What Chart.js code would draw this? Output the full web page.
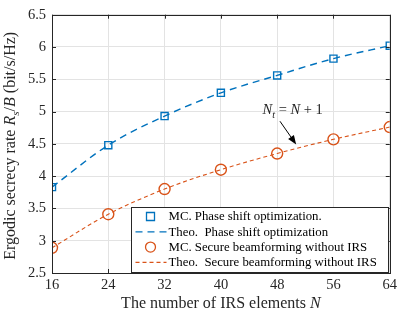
<!DOCTYPE html>
<html>
<head>
<meta charset="utf-8">
<script src="https://cdn.jsdelivr.net/npm/chart.js@4"></script>
<style>
  html, body { margin: 0; padding: 0; background: #fff; }
  #wrap { width: 400px; height: 318px; }
</style>
</head>
<body>
<div id="wrap"><canvas id="rateChart" width="400" height="318"></canvas></div>
<script>
// number of IRS elements N
const irsElements = [16, 24, 32, 40, 48, 56, 64];
// MC / theory, phase shift optimization
const mcPhaseShift = [3.83, 4.48, 4.93, 5.29, 5.56, 5.82, 6.02];
const theoPhaseShift = [3.83, 4.48, 4.93, 5.29, 5.56, 5.82, 6.02];
// MC / theory, secure beamforming without IRS
const mcNoIrs = [2.89, 3.41, 3.80, 4.10, 4.35, 4.57, 4.76];
const theoNoIrs = [2.89, 3.41, 3.80, 4.10, 4.35, 4.57, 4.76];

const labels = [
    'MC. Phase shift optimization.',
    'Theo.  Phase shift optimization',
    'MC. Secure beamforming without IRS',
    'Theo.  Secure beamforming without IRS'
];

const BLUE = '#0072BD';
const ORANGE = '#D95319';
const AXIS = '#262626';
const SERIF = '"Liberation Serif", "Times New Roman", serif';

function pts(ys) {
    return irsElements.map((x, i) => ({ x: x, y: ys[i] }));
}

// draw text made of runs [text, italic, subscript]
function runWidth(ctx, runs, size) {
    let w = 0;
    runs.forEach(r => {
        const s = r[2] ? size * 0.7 : size;
        ctx.font = (r[1] ? 'italic ' : '') + s + 'px ' + SERIF;
        w += ctx.measureText(r[0]).width;
    });
    return w;
}
function drawRuns(ctx, runs, x, y, size) {
    let cx = x - runWidth(ctx, runs, size) / 2;
    ctx.textAlign = 'left';
    ctx.textBaseline = 'alphabetic';
    runs.forEach(r => {
        const s = r[2] ? size * 0.7 : size;
        ctx.font = (r[1] ? 'italic ' : '') + s + 'px ' + SERIF;
        ctx.fillText(r[0], cx, y + (r[2] ? size * 0.25 : 0));
        cx += ctx.measureText(r[0]).width;
    });
}

const decorPlugin = {
    id: 'decor',
    afterDraw(chart) {
        const ctx = chart.ctx;
        const a = chart.chartArea;
        const xs = chart.scales.x, ys = chart.scales.y;
        ctx.save();

        // inward ticks
        ctx.strokeStyle = AXIS;
        ctx.lineWidth = 1;
        ctx.beginPath();
        xs.ticks.forEach(t => {
            const px = Math.round(xs.getPixelForValue(t.value)) + 0.5;
            ctx.moveTo(px, a.bottom); ctx.lineTo(px, a.bottom - 4);
            ctx.moveTo(px, a.top); ctx.lineTo(px, a.top + 4);
        });
        ys.ticks.forEach(t => {
            const py = Math.round(ys.getPixelForValue(t.value)) + 0.5;
            ctx.moveTo(a.left, py); ctx.lineTo(a.left + 4, py);
            ctx.moveTo(a.right, py); ctx.lineTo(a.right - 4, py);
        });
        ctx.stroke();
        // box
        ctx.strokeRect(Math.round(a.left) + 0.5, Math.round(a.top) + 0.5,
            Math.round(a.right - a.left), Math.round(a.bottom - a.top));

        // axis titles
        ctx.fillStyle = AXIS;
        drawRuns(ctx, [['The number of IRS elements ', false], ['N', true]],
            (a.left + a.right) / 2, 308, 16);
        ctx.save();
        ctx.translate(15, (a.top + a.bottom) / 2 + 2);
        ctx.rotate(-Math.PI / 2);
        drawRuns(ctx, [['Ergodic secrecy rate ', false], ['R', true], ['s', true, true],
            ['/', false], ['B', true], [' (bit/s/Hz)', false]], 0, 0, 16);
        ctx.restore();

        // annotation
        drawRuns(ctx, [['N', true], ['t', true, true], [' = ', false], ['N', true], [' + 1', false]],
            xs.getPixelForValue(50.2), ys.getPixelForValue(4.96), 14.5);
        const x0 = xs.getPixelForValue(48.4), y0 = ys.getPixelForValue(4.85);
        const x1 = xs.getPixelForValue(50.7), y1 = ys.getPixelForValue(4.49);
        const ang = Math.atan2(y1 - y0, x1 - x0);
        ctx.strokeStyle = '#000';
        ctx.fillStyle = '#000';
        ctx.lineWidth = 1;
        ctx.beginPath();
        ctx.moveTo(x0, y0);
        ctx.lineTo(x1 - 6 * Math.cos(ang), y1 - 6 * Math.sin(ang));
        ctx.stroke();
        ctx.beginPath();
        ctx.moveTo(x1, y1);
        ctx.lineTo(x1 - 9 * Math.cos(ang) + 3.5 * Math.sin(ang), y1 - 9 * Math.sin(ang) - 3.5 * Math.cos(ang));
        ctx.lineTo(x1 - 9 * Math.cos(ang) - 3.5 * Math.sin(ang), y1 - 9 * Math.sin(ang) + 3.5 * Math.cos(ang));
        ctx.closePath();
        ctx.fill();

        // legend box
        const bx = Math.round(a.left + 79) + 0.5, by = Math.round(a.bottom - 66) + 0.5;
        const bw = Math.round(a.right - 1 - bx), bh = Math.round(a.bottom - 1 - by);
        ctx.fillStyle = '#fff';
        ctx.fillRect(bx, by, bw, bh);
        ctx.strokeStyle = AXIS;
        ctx.strokeRect(bx, by, bw, bh);
        chart.data.datasets.forEach((ds, i) => {
            const ry = by + 9 + i * 15.3;
            const mx = bx + 19;
            ctx.strokeStyle = ds.borderColor;
            ctx.lineWidth = 1.3;
            if (ds.showLine === false) {
                ctx.setLineDash([]);
                ctx.beginPath();
                if (ds.pointStyle === 'rect') {
                    ctx.rect(mx - 4, ry - 4, 8, 8);
                } else {
                    ctx.arc(mx, ry, 5, 0, Math.PI * 2);
                }
                ctx.stroke();
            } else {
                ctx.setLineDash(ds.borderDash);
                ctx.beginPath();
                ctx.moveTo(bx + 4, ry); ctx.lineTo(bx + 35, ry);
                ctx.stroke();
                ctx.setLineDash([]);
            }
            ctx.fillStyle = '#000';
            ctx.font = '12.8px ' + SERIF;
            ctx.textAlign = 'left';
            ctx.textBaseline = 'middle';
            ctx.fillText(ds.label, bx + 37, ry + 0.5);
        });
        ctx.restore();
    }
};

new Chart(document.getElementById('rateChart').getContext('2d'), {
    type: 'scatter',
    data: {
        datasets: [
            {
                label: labels[0], data: pts(mcPhaseShift), showLine: false,
                pointStyle: 'rect', pointRadius: 5, borderColor: BLUE,
                backgroundColor: 'rgba(0,0,0,0)', pointBorderWidth: 1.4, order: 1
            },
            {
                label: labels[1], data: pts(theoPhaseShift), showLine: true,
                pointRadius: 0, borderColor: BLUE, borderWidth: 1.4,
                borderDash: [7, 5], tension: 0.4, cubicInterpolationMode: 'monotone', order: 2
            },
            {
                label: labels[2], data: pts(mcNoIrs), showLine: false,
                pointStyle: 'circle', pointRadius: 5.5, borderColor: ORANGE,
                backgroundColor: 'rgba(0,0,0,0)', pointBorderWidth: 1.4, order: 1
            },
            {
                label: labels[3], data: pts(theoNoIrs), showLine: true,
                pointRadius: 0, borderColor: ORANGE, borderWidth: 1.1,
                borderDash: [4, 3], tension: 0.4, cubicInterpolationMode: 'monotone', order: 2
            }
        ]
    },
    options: {
        responsive: false,
        animation: false,
        layout: { padding: { top: 8, right: 6, left: 0, bottom: 0 } },
        plugins: { legend: { display: false }, tooltip: { enabled: false } },
        scales: {
            x: {
                type: 'linear', min: 16, max: 64,
                afterFit: s => { s.height = 45; },
                afterBuildTicks: s => { s.ticks = irsElements.map(v => ({ value: v })); },
                grid: { color: '#e3e3e3', drawTicks: false },
                border: { display: false },
                ticks: { color: AXIS, padding: 3, font: { family: SERIF, size: 14.5 } }
            },
            y: {
                min: 2.5, max: 6.5,
                afterFit: s => { s.width = 52; },
                grid: { color: '#e3e3e3', drawTicks: false },
                border: { display: false },
                ticks: {
                    stepSize: 0.5, color: AXIS, padding: 6,
                    font: { family: SERIF, size: 14.5 },
                    callback: v => String(Number(v.toFixed(1)))
                }
            }
        }
    },
    plugins: [decorPlugin]
});
</script>
</body>
</html>
